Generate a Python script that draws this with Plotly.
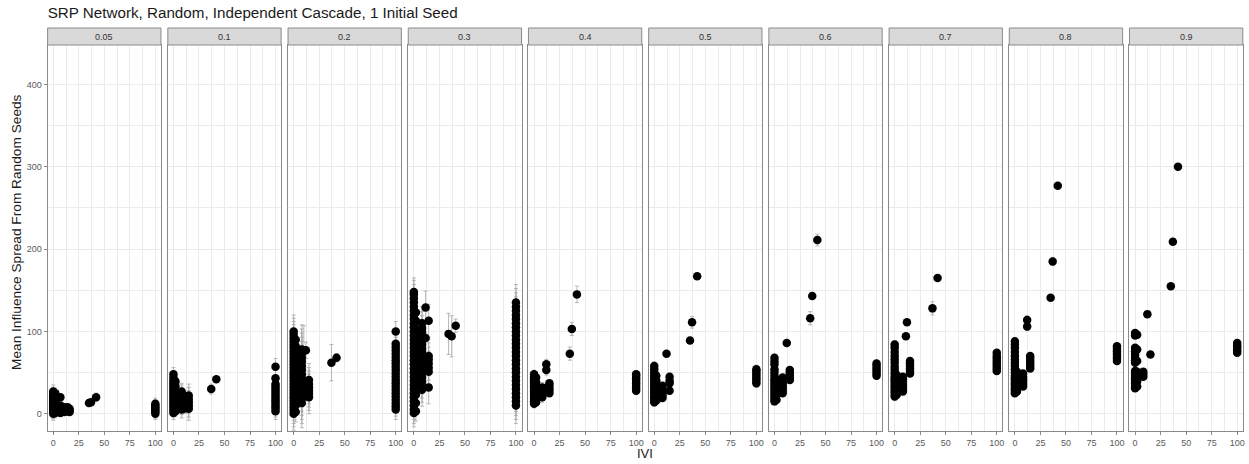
import plotly.graph_objects as go

# ---------------- data ----------------
FACETS = ["0.05", "0.1", "0.2", "0.3", "0.4", "0.5", "0.6", "0.7", "0.8", "0.9"]
X_TICKS = [0, 25, 50, 75, 100]
Y_TICKS = [0, 100, 200, 300, 400]

# per facet: cluster IVI positions, spread values in each cluster, error half-width per cluster
P005_X = [0, 2, 7, 11, 14, 16, 35, 37, 42, 100]
P005_Y = [[0, 2, 4, 6, 8, 10, 12, 14, 16, 18, 20, 22, 24, 27], [1, 5, 9, 13, 17, 21, 25],
          [1, 4, 7, 10, 20], [2, 5, 8], [3, 5, 8], [2, 4, 6], [13], [14], [20],
          [0, 2, 4, 6, 8, 10, 12]]
P005_E = [8, 6, 4, 3, 3, 3, 2, 2, 5, 7]

P01_X = [0, 2, 8, 10, 13, 15, 37, 42, 100]
P01_Y = [[1, 4, 7, 10, 13, 16, 19, 22, 25, 28, 31, 34, 37, 40, 44, 48], [3, 8, 14, 20, 26, 33, 39],
         [5, 9, 13, 17, 21, 25, 27], [6, 11, 16, 22], [7, 11, 15], [6, 10, 14, 18, 22],
         [30], [42], [3, 6, 9, 12, 15, 18, 21, 24, 27, 30, 33, 36, 43, 57]]
P01_E = [8, 6, 10, 6, 6, 14, 6, 3, 10]

P02_X = [0, 2, 8, 10, 12, 15, 37, 42, 100]
P02_Y = [[0, 4, 8, 12, 16, 20, 24, 28, 32, 36, 40, 44, 48, 52, 56, 60, 64, 68, 72, 76, 80, 84, 88, 92, 96, 100],
         [2, 10, 18, 26, 34, 42, 50, 58, 66, 74, 82, 90],
         [13, 18, 23, 28, 33, 38, 43, 48, 53, 58, 63, 68, 73, 78], [77], [77],
         [20, 24, 28, 32, 36, 41], [62], [68],
         [5, 9, 13, 17, 21, 25, 29, 33, 37, 41, 45, 49, 53, 57, 61, 65, 69, 73, 77, 81, 85, 100]]
P02_E = [20, 12, 30, 30, 10, 20, 22, 5, 12]

P03_X = [0, 2, 8, 11.5, 14.5, 34, 37, 41, 100]
P03_Y = [[1, 5, 10, 15, 20, 25, 30, 35, 40, 45, 50, 55, 60, 65, 70, 75, 80, 85, 90, 95, 100, 105,
          110, 115, 120, 125, 130, 135, 140, 145, 148],
         [3, 13, 23, 33, 43, 53, 63, 73, 83, 93, 103, 113, 123],
         [29, 34, 39, 44, 49, 54, 59, 64, 69, 74, 79, 84, 89, 94, 99, 104, 110],
         [92, 129], [32, 51, 56, 61, 66, 70, 113], [97], [94], [107],
         [10, 15, 20, 25, 30, 35, 40, 45, 50, 55, 60, 65, 70, 75, 80, 85, 90, 95, 100, 105, 110,
          115, 120, 125, 130, 135]]
P03_E = [17, 12, 20, 20, 20, 25, 25, 8, 22]

P04_X = [0, 2, 8, 12, 15, 35, 37, 42, 100]
P04_Y = [[12, 15, 18, 21, 24, 27, 30, 33, 36, 39, 42, 45, 48], [14, 20, 26, 32, 38, 44],
         [20, 23, 26, 29, 32], [53, 60], [25, 28, 31, 34, 37], [73], [103], [145],
         [28, 31, 34, 37, 40, 43, 46, 48]]
P04_E = [5, 4, 6, 6, 3, 8, 8, 10, 4]

P05_X = [0, 2, 8, 12, 15, 35, 37, 42, 100]
P05_Y = [[14, 17, 20, 23, 26, 29, 32, 35, 38, 41, 44, 47, 50, 54, 58], [16, 22, 28, 34, 40, 46],
         [19, 22, 25, 28, 31, 34], [73], [28, 37, 40, 45], [89], [111], [167],
         [37, 40, 43, 46, 49, 52, 54]]
P05_E = [5, 4, 4, 3, 3, 3, 7, 3, 5]

P06_X = [0, 2, 8, 12, 15, 35, 37, 42, 100]
P06_Y = [[15, 18, 21, 24, 27, 30, 33, 36, 39, 42, 46, 50, 54, 60, 64, 68], [17, 23, 29, 35, 41],
         [25, 28, 31, 34, 37, 40, 44], [86], [41, 44, 47, 50, 53], [116], [143], [211],
         [46, 49, 52, 55, 58, 61]]
P06_E = [4, 4, 3, 3, 4, 8, 3, 7, 4]

P07_X = [0, 2, 8, 11, 12, 15, 37, 42, 100]
P07_Y = [[21, 24, 27, 30, 33, 36, 39, 42, 45, 49, 53, 57, 62, 66, 70, 75, 80, 84], [23, 29, 35, 41, 47],
         [27, 30, 33, 36, 39, 42, 45], [94], [111], [49, 52, 55, 58, 61, 64], [128], [165],
         [52, 55, 58, 61, 64, 67, 70, 74]]
P07_E = [5, 4, 4, 3, 3, 3, 8, 3, 4]

P08_X = [0, 2, 8, 12, 15, 35, 37, 42, 100]
P08_Y = [[25, 28, 31, 34, 37, 40, 43, 46, 50, 54, 58, 62, 66, 70, 75, 80, 84, 88], [27, 33, 39, 45, 51],
         [33, 36, 39, 42, 45, 49], [106, 114], [55, 58, 61, 64, 67, 70], [141], [185], [277],
         [64, 67, 70, 73, 76, 79, 82]]
P08_E = [4, 4, 3, 5, 3, 3, 5, 3, 4]

P09_X = [0, 2, 8, 12, 15, 35, 37, 42, 100]
P09_Y = [[31, 34, 37, 40, 43, 46, 49, 52, 62, 65, 68, 72, 76, 80, 95, 98], [33, 39, 45, 51, 64, 78, 96],
         [45, 48, 51], [121], [72], [155], [209], [300], [74, 77, 80, 83, 86]]
P09_E = [3, 3, 3, 3, 3, 3, 3, 3, 3]

PANELS = [(P005_X, P005_Y, P005_E), (P01_X, P01_Y, P01_E), (P02_X, P02_Y, P02_E),
          (P03_X, P03_Y, P03_E), (P04_X, P04_Y, P04_E), (P05_X, P05_Y, P05_E),
          (P06_X, P06_Y, P06_E), (P07_X, P07_Y, P07_E), (P08_X, P08_Y, P08_E),
          (P09_X, P09_Y, P09_E)]

TITLE = "SRP Network, Random, Independent Cascade, 1 Initial Seed"
X_TITLE = "IVI"
Y_TITLE = "Mean Influence Spread From Random Seeds"

# ---------------- layout geometry (pixels) ----------------
W, H = 1249, 464
LEFT0, STEP, PW = 47.7, 120.4, 113.5
PANEL_TOP, PANEL_BOT = 45, 431
STRIP_TOP = 28
FONT = "Liberation Sans, Arial, sans-serif"
BORDER = "#8a8a8a"
GRID = "#ebebeb"

fig = go.Figure()
shapes, annotations = [], []

for i, (facet, (cx, cy, ce)) in enumerate(zip(FACETS, PANELS)):
    xs, ys, es = [], [], []
    for xv, yl, ev in zip(cx, cy, ce):
        for yv in yl:
            xs.append(xv)
            ys.append(yv)
            es.append(ev)
    ax = "" if i == 0 else str(i + 1)
    fig.add_trace(go.Scatter(
        x=xs, y=ys, mode="markers", xaxis="x" + ax, yaxis="y" + ax,
        marker=dict(color="black", size=8.5, line=dict(width=0)),
        error_y=dict(type="data", array=es, color="#a6a6a6", thickness=0.8, width=2),
        showlegend=False, hoverinfo="x+y"))

    left = LEFT0 + STEP * i
    xd = [left / W, (left + PW) / W]
    yd = [(H - PANEL_BOT) / H, (H - PANEL_TOP) / H]
    fig.layout["xaxis" + ax] = dict(
        domain=xd, range=[-5.5, 105.5], anchor="y" + ax,
        tickvals=X_TICKS, ticks="outside", ticklen=3, tickcolor=BORDER,
        tickfont=dict(size=9, color="#5a5a5a", family=FONT),
        showgrid=True, gridcolor=GRID, gridwidth=1,
        minor=dict(dtick=12.5, tick0=0, showgrid=True, gridcolor=GRID, gridwidth=0.6, ticks=""),
        showline=True, mirror=True, linecolor=BORDER, linewidth=1, zeroline=False)
    fig.layout["yaxis" + ax] = dict(
        domain=yd, range=[-21, 448], anchor="x" + ax,
        tickvals=Y_TICKS, ticks="outside" if i == 0 else "", ticklen=3, tickcolor=BORDER,
        showticklabels=(i == 0),
        tickfont=dict(size=9, color="#5a5a5a", family=FONT),
        showgrid=True, gridcolor=GRID, gridwidth=1,
        minor=dict(dtick=50, tick0=0, showgrid=True, gridcolor=GRID, gridwidth=0.6, ticks=""),
        showline=True, mirror=True, linecolor=BORDER, linewidth=1, zeroline=False)

    shapes.append(dict(type="rect", xref="paper", yref="paper",
                       x0=xd[0], x1=xd[1], y0=(H - PANEL_TOP) / H, y1=(H - STRIP_TOP) / H,
                       fillcolor="#d9d9d9", line=dict(color=BORDER, width=1), layer="above"))
    annotations.append(dict(text=facet, xref="paper", yref="paper",
                            x=(xd[0] + xd[1]) / 2, y=(H - (PANEL_TOP + STRIP_TOP) / 2) / H,
                            showarrow=False, xanchor="center", yanchor="middle",
                            font=dict(size=9, color="#333333", family=FONT)))

annotations.append(dict(text=Y_TITLE, xref="paper", yref="paper", x=16 / W,
                        y=(H - 232) / H, textangle=-90,
                        showarrow=False, xanchor="center", yanchor="middle",
                        font=dict(size=13.7, color="#1a1a1a", family=FONT)))
annotations.append(dict(text=X_TITLE, xref="paper", yref="paper",
                        x=(LEFT0 + (LEFT0 + STEP * 9 + PW)) / 2 / W, y=(H - 453) / H,
                        showarrow=False, xanchor="center", yanchor="middle",
                        font=dict(size=13, color="#1a1a1a", family=FONT)))

fig.update_layout(
    width=W, height=H, margin=dict(l=0, r=0, t=0, b=0),
    paper_bgcolor="white", plot_bgcolor="white",
    title=dict(text=TITLE, x=LEFT0 / W, xanchor="left", y=1 - 13 / H, yanchor="middle",
               font=dict(size=15.2, color="#1a1a1a", family=FONT)),
    shapes=shapes, annotations=annotations)

fig.write_html("out.html")
